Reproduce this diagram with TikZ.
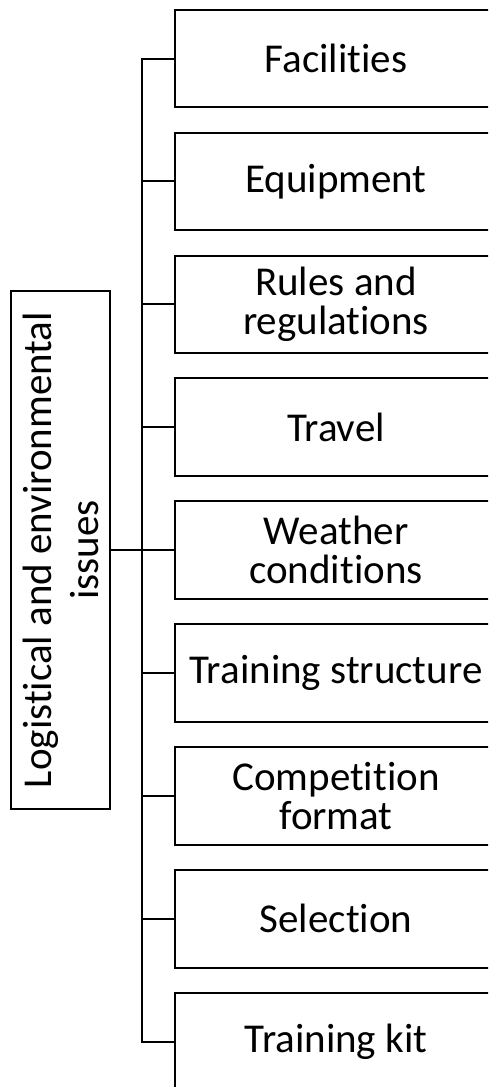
\documentclass[tikz,border=0pt]{standalone}
\usepackage{fontspec}
\setmainfont[Ligatures={NoCommon,NoContextual}]{Carlito}
\begin{document}
\begin{tikzpicture}[x=1pt,y=-1pt,
  line width=2pt,
  itembox/.style={draw, anchor=west, minimum width=322pt, minimum height=97.5pt,
    inner sep=0pt, align=center, font=\fontsize{41}{39}\selectfont},
  rootbox/.style={draw, rotate=90, minimum width=518pt, minimum height=99pt,
    inner sep=0pt, align=center, font=\fontsize{41}{47}\selectfont},
  link/.style={line width=2pt}]
\useasboundingbox (0,0) rectangle (488,1087);
\clip (0,0) rectangle (488,1087);
\node[rootbox] (L) at (60.5,550) {Logistical and environmental\\issues};
\node[itembox] (b0) at (174,58.5) {Facilities};
\node[itembox] (b1) at (174,181.4) {Equipment};
\node[itembox] (b2) at (174,304.3) {Rules and\\regulations};
\node[itembox] (b3) at (174,427.2) {Travel};
\node[itembox] (b4) at (174,550.1) {Weather\\conditions};
\node[itembox] (b5) at (174,673.0) {Training structure};
\node[itembox] (b6) at (174,795.9) {Competition\\format};
\node[itembox] (b7) at (174,918.8) {Selection};
\node[itembox] (b8) at (174,1041.7) {Training kit};
\coordinate (t0) at (142,58.5);
\coordinate (t8) at (142,1041.7);
\draw[link] (b0.west) -- (t0) -- (t8) -- (b8.west);
\foreach \i in {1,...,7} {
  \draw[link] (b\i.west) -- (b\i.west -| t0);
}
\draw[link] (L.south) -- (L.south -| t0);
\end{tikzpicture}
\end{document}
